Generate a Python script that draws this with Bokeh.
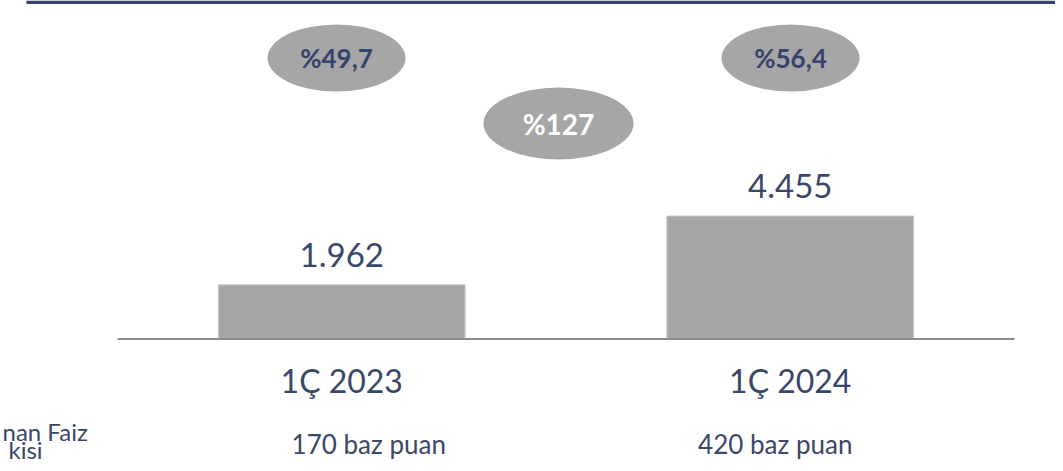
from bokeh.plotting import figure
from bokeh.models import ColumnDataSource, Range1d
from bokeh.core.properties import value
from bokeh.embed import file_html
from bokeh.resources import INLINE

# ---- data ----
categories = ["1Ç 2023", "1Ç 2024"]
values = [1962, 4455]
value_labels = ["1.962", "4.455"]
bps_labels = ["170 baz puan", "420 baz puan"]
yoy_labels = ["%49,7", "%56,4"]
growth_label = ["%127"]
row_label = ["nan Faiz", "kisi"]

# ---- layout constants ----
NAVY = "#36436b"
TEXT = "#3b4769"
GRAY = "#a6a6a6"
FONT = value("Lato")
W, H = 1055, 463
PX_X = 448.5          # px per x unit
PX_Y = 0.0276         # px per y unit
X0 = 117              # px of x=0 from left
Y0 = 338.5            # px of y=0 from top


def xd(px):
    return (px - X0) / PX_X


def yd(py):
    return (Y0 - py) / PX_Y


p = figure(width=W, height=H, output_backend="svg", toolbar_location=None,
           x_range=Range1d(xd(0), xd(W)), y_range=Range1d(yd(H), yd(0)),
           min_border=0, outline_line_color=None)
p.axis.visible = False
p.grid.visible = False
p.background_fill_color = "white"
p.border_fill_color = "white"

xc = [i + 0.5 for i in range(len(categories))]
src = ColumnDataSource(dict(x=xc, top=values, cat=categories, vl=value_labels,
                            bps=bps_labels, bps_off=[27, -15]))

# top navy rule
p.quad(left=[xd(26)], right=[xd(W)], top=[yd(0)], bottom=[yd(3.5)],
       fill_color=NAVY, line_color=None)

# bars
p.vbar(x="x", top="top", bottom=0, width=0.55, source=src,
       fill_color=GRAY, line_color="#c8c8c8", line_width=1)
# baseline
p.segment(x0=[0], y0=[0], x1=[2], y1=[0], line_color="#8c8c8c", line_width=2)

# value labels
p.text(x="x", y="top", text="vl", source=src, y_offset=-30,
       text_align="center", text_baseline="middle", text_font=FONT,
       text_font_size="33px", text_color=TEXT)
# category labels
p.text(x="x", y=0, text="cat", source=src, y_offset=41,
       text_align="center", text_baseline="middle", text_font=FONT,
       text_font_size="32px", text_color=TEXT)
# basis point labels
p.text(x="x", y=0, text="bps", source=src, y_offset=105, x_offset="bps_off",
       text_align="center", text_baseline="middle", text_font=FONT,
       text_font_size="26px", text_color=TEXT)

# left row label (visible part of the original)
p.text(x=[xd(2), xd(8)], y=[0, 0], text=row_label,
       y_offset=[92, 110], text_align="left", text_baseline="middle",
       text_font=FONT, text_font_size="24px", text_color=TEXT)

# yoy badges
badge_x = [xd(336), xd(790)]
badge_y = [yd(57.5)] * 2
p.ellipse(x=badge_x, y=badge_y, width=138, height=67, width_units="screen",
          height_units="screen", fill_color=GRAY, line_color=None)
p.text(x=badge_x, y=badge_y, text=yoy_labels, text_align="center",
       text_baseline="middle", text_font=FONT, text_font_size="26px",
       text_font_style="bold", text_color=NAVY)

# growth badge
gx = [xd(558)]
gy = [yd(123)]
p.ellipse(x=gx, y=gy, width=150, height=72, width_units="screen",
          height_units="screen", fill_color=GRAY, line_color=None)
p.text(x=gx, y=gy, text=growth_label, text_align="center",
       text_baseline="middle", text_font=FONT, text_font_size="28px",
       text_font_style="bold", text_color="white")

open("out.html", "w").write(file_html(p, INLINE))
